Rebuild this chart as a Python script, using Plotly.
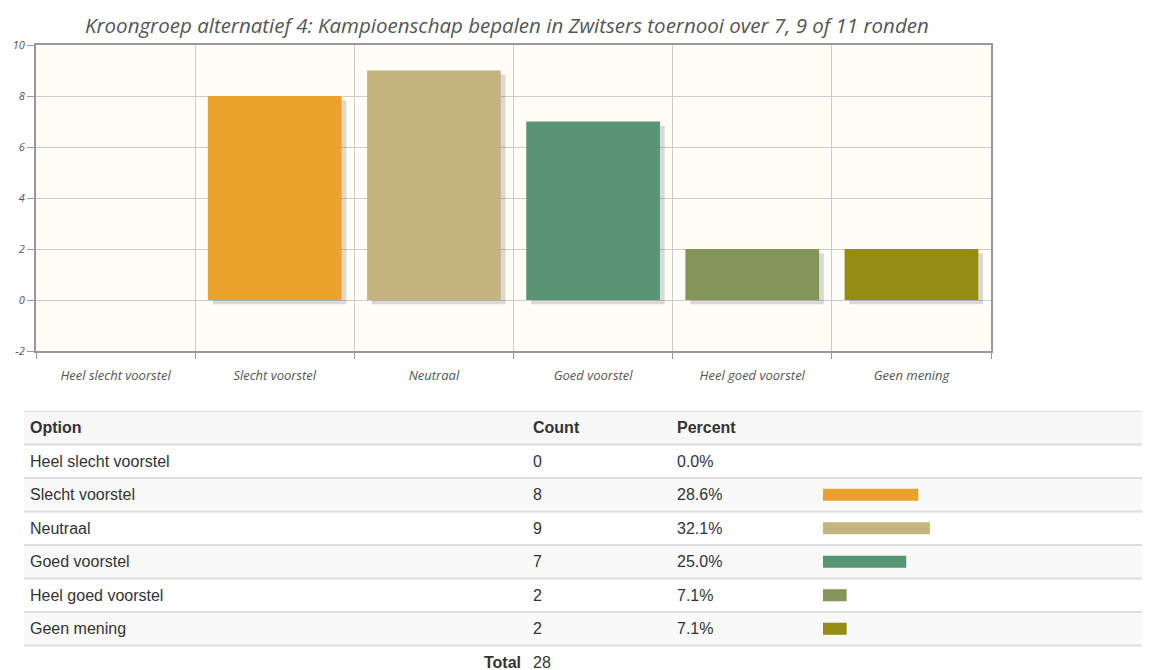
import plotly.graph_objects as go

# ---------------- data ----------------
title_text = "Kroongroep alternatief 4: Kampioenschap bepalen in Zwitsers toernooi over 7, 9 of 11 ronden"
categories = ["Heel slecht voorstel", "Slecht voorstel", "Neutraal",
              "Goed voorstel", "Heel goed voorstel", "Geen mening"]
counts = [0, 8, 9, 7, 2, 2]
percents = [0.0, 28.6, 32.1, 25.0, 7.1, 7.1]
total = 28
colors = ["#4bb2c5", "#EAA228", "#c5b47f", "#579575", "#839557", "#958c12"]
y_ticks = [-2, 0, 2, 4, 6, 8, 10]
table_headers = ["Option", "Count", "Percent"]

OFF = 8  # page body margin
W, H = 1150 - OFF, 670 - OFF
def px(x):
    return (x - OFF) / W
def py(y):
    return 1 - (y - OFF) / H

fig = go.Figure()

# shadow of chart bars
fig.add_trace(go.Bar(
    x=categories, y=counts, base=-0.17, width=0.84, offset=-0.42 + 0.03,
    marker=dict(color="rgba(0,0,0,0.14)", line=dict(width=0)),
    hoverinfo="skip", showlegend=False, xaxis="x", yaxis="y"))
fig.add_trace(go.Bar(
    x=categories, y=counts, width=0.84, offset=-0.42,
    marker=dict(color=colors, line=dict(width=0)),
    showlegend=False, xaxis="x", yaxis="y"))

# table mini percent bars
rows = list(range(1, len(categories) + 1))
fig.add_trace(go.Bar(
    x=percents, y=rows, orientation="h", width=0.36,
    marker=dict(color=colors, line=dict(width=0)),
    showlegend=False, xaxis="x2", yaxis="y2"))

# ---------------- layout ----------------
row_h = 33.5
table_top = 411
y2_bottom = -0.5 + (670 - table_top) / row_h

fig.update_layout(
    width=W, height=H,
    margin=dict(l=0, r=0, t=0, b=0),
    paper_bgcolor="white",
    plot_bgcolor="rgba(0,0,0,0)",
    barmode="overlay",
    xaxis=dict(
        domain=[px(36), px(991)], anchor="y",
        type="category", tickson="boundaries",
        showgrid=True, gridcolor="#cccccc", gridwidth=1,
        showline=True, linecolor="#999999", linewidth=2, mirror=True,
        ticks="outside", ticklen=6, tickcolor="#999999",
        tickfont=dict(family="Open Sans", size=13, color="#555555", style="italic"),
        ticklabelstandoff=11,
        zeroline=False, automargin=False, fixedrange=True,
    ),
    yaxis=dict(
        domain=[py(351), py(45)], anchor="x",
        range=[-2, 10], tickvals=y_ticks, ticktext=[str(v) for v in y_ticks],
        showgrid=True, gridcolor="#cccccc", gridwidth=1,
        showline=True, linecolor="#999999", linewidth=2, mirror=True,
        ticks="outside", ticklen=7, tickcolor="#999999",
        tickfont=dict(family="Open Sans", size=11, color="#555555", style="italic"),
        zeroline=False, automargin=False, fixedrange=True,
    ),
    xaxis2=dict(
        domain=[0, 1], anchor="y2",
        range=[-(823 - OFF) / 3.33, (1150 - 823) / 3.33],
        visible=False, fixedrange=True,
    ),
    yaxis2=dict(
        domain=[0, py(table_top)], anchor="x2",
        range=[y2_bottom, -0.5],
        visible=False, fixedrange=True,
    ),
)

shapes = []
# chart plot background
shapes.append(dict(type="rect", xref="x domain", yref="y domain", x0=0, x1=1, y0=0, y1=1,
                   fillcolor="#fffdf6", line=dict(width=0), layer="below"))
# table row backgrounds
for i in range(0, len(categories) + 1):
    fill = "#f7f7f7" if i == 0 else ("#ffffff" if i % 2 == 1 else "#f9f9f9")
    shapes.append(dict(type="rect", xref="paper", yref="y2", x0=px(24), x1=1,
                       y0=i - 0.5, y1=i + 0.5, fillcolor=fill, line=dict(width=0), layer="below"))
# row separators
for i in range(0, len(categories) + 2):
    shapes.append(dict(type="line", xref="paper", yref="y2", x0=px(24), x1=1,
                       y0=i - 0.5, y1=i - 0.5, line=dict(color="#dddddd", width=2), layer="below"))
fig.update_layout(shapes=shapes)

ann = []
ann.append(dict(text=title_text, xref="paper", yref="paper", x=px(507), y=py(25),
                showarrow=False, xanchor="center", yanchor="middle",
                font=dict(family="Open Sans", size=20.5, color="#555555", style="italic")))

tfont = "Liberation Sans"
col_x = [28, 531, 675]
for h, cx in zip(table_headers, col_x):
    ann.append(dict(text=f"<b>{h}</b>", xref="paper", yref="y2", x=px(cx), y=0,
                    xanchor="left", yanchor="middle", showarrow=False,
                    font=dict(family=tfont, size=16, color="#333333")))
for i, (c, n, p) in enumerate(zip(categories, counts, percents)):
    r = i + 1
    for txt, cx in zip([c, str(n), f"{p:.1f}%"], col_x):
        ann.append(dict(text=txt, xref="paper", yref="y2", x=px(cx), y=r,
                        xanchor="left", yanchor="middle", showarrow=False,
                        font=dict(family=tfont, size=16, color="#333333")))
r_total = len(categories) + 1
ann.append(dict(text="<b>Total</b>", xref="paper", yref="y2", x=px(523), y=r_total,
                xanchor="right", yanchor="middle", showarrow=False,
                font=dict(family=tfont, size=16, color="#333333")))
ann.append(dict(text=str(total), xref="paper", yref="y2", x=px(531), y=r_total,
                xanchor="left", yanchor="middle", showarrow=False,
                font=dict(family=tfont, size=16, color="#333333")))
fig.update_layout(annotations=ann)

fig.write_html("out.html")
